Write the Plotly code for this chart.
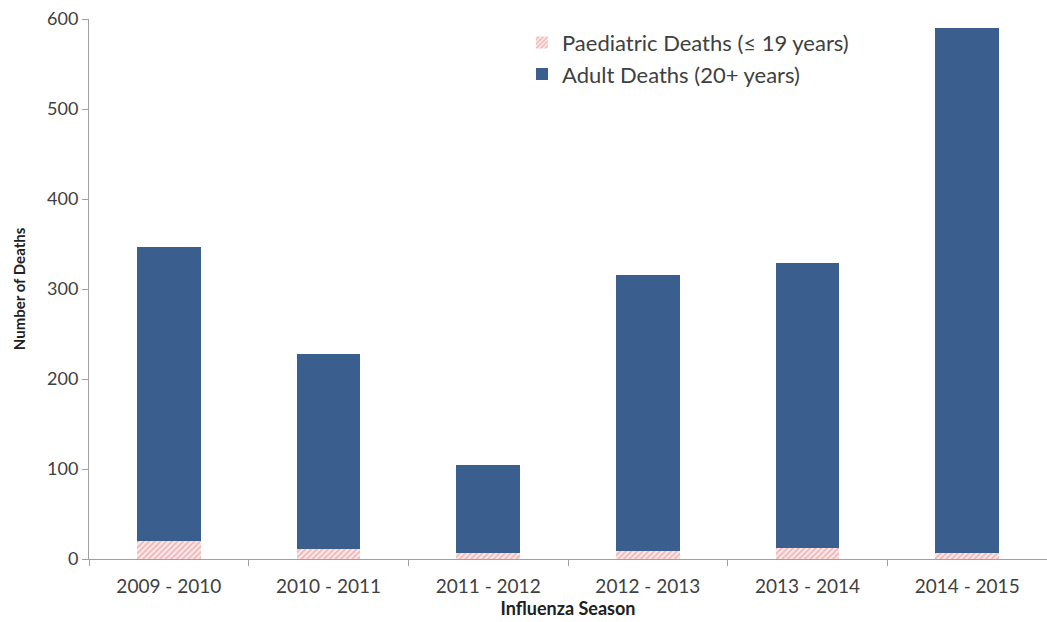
import plotly.graph_objects as go

seasons = ["2009 - 2010", "2010 - 2011", "2011 - 2012", "2012 - 2013", "2013 - 2014", "2014 - 2015"]
paediatric = [20, 11, 7, 9, 12, 7]
adult = [327, 217, 97, 307, 317, 583]

FONT = "Lato"
fig = go.Figure()
fig.add_trace(go.Bar(
    x=seasons, y=paediatric, name="Paediatric Deaths (\u2264 19 years)",
    marker=dict(color="white", line=dict(width=0),
                pattern=dict(shape="/", fgcolor="#e27c80", bgcolor="#fbeaea", size=4, solidity=0.45)),
    width=0.4,
))
fig.add_trace(go.Bar(
    x=seasons, y=adult, name="Adult Deaths (20+ years)",
    marker=dict(color="#3a5e8e", line=dict(width=0)),
    width=0.4,
))
fig.update_layout(
    barmode="stack",
    width=1047, height=622,
    margin=dict(l=89, r=0, t=19, b=63),
    paper_bgcolor="white", plot_bgcolor="white",
    font=dict(family=FONT, color="#404040", size=18),
    legend=dict(x=0.452, y=0.995, xanchor="left", yanchor="top",
                font=dict(size=22, color="#404040"), bgcolor="rgba(0,0,0,0)",
                traceorder="normal", itemwidth=30),
    showlegend=True,
)
fig.update_xaxes(
    type="category", range=[-0.5, 5.5],
    showline=True, linecolor="#a0a0a0", linewidth=1,
    ticks="outside", tickson="boundaries", ticklen=6, tickcolor="#a0a0a0",
    tickfont=dict(size=19, color="#404040"), ticklabelstandoff=10,
    title=dict(text="<b>Influenza Season</b>", font=dict(size=18, color="#202020"), standoff=0),
    showgrid=False,
)
fig.update_yaxes(
    range=[0, 600], dtick=100,
    showline=True, linecolor="#a0a0a0", linewidth=1,
    ticks="outside", ticklen=6, tickcolor="#a0a0a0",
    tickfont=dict(size=18, color="#404040"),
    title=dict(text="<b>Number of Deaths</b>", font=dict(size=15, color="#202020"), standoff=17),
    showgrid=False, zeroline=False,
)
fig.write_html("out.html")
